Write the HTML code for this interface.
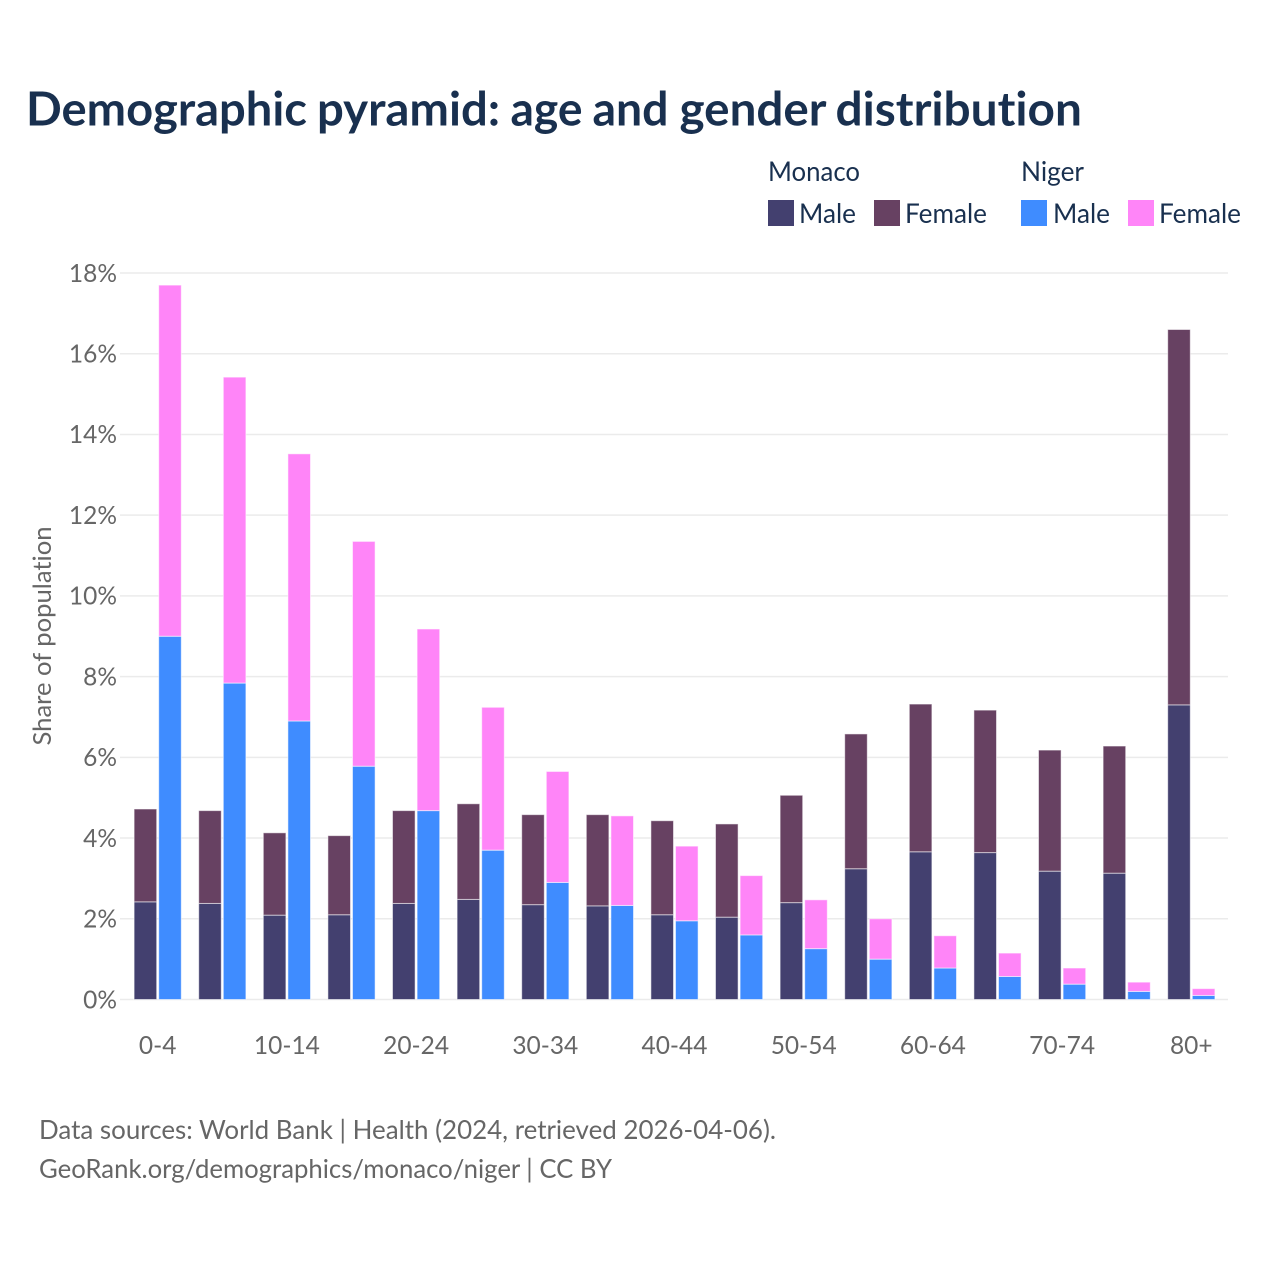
<!DOCTYPE html>
<html lang="en">
<head>
<meta charset="utf-8">
<title>Demographic pyramid</title>
<style>
html,body{margin:0;padding:0;background:#fff;}
svg{display:block;}
text{font-family:"Lato","Carlito","Liberation Sans",sans-serif;font-variant-ligatures:none;}
.tick{font-size:25px;fill:#666;}
.leg{font-size:27px;fill:#19304f;}
.foot{font-size:26px;fill:#666;}
</style>
</head>
<body>
<svg id="chart" width="1280" height="1280" viewBox="0 0 1280 1280" xmlns="http://www.w3.org/2000/svg">
  <rect width="1280" height="1280" fill="#fff"/>
  <text y="125.5" font-size="47" font-weight="700" fill="#19304f"><tspan x="26" textLength="281" lengthAdjust="spacingAndGlyphs">Demographic</tspan> <tspan x="317" textLength="183" lengthAdjust="spacingAndGlyphs">pyramid:</tspan> <tspan x="510.5" textLength="72" lengthAdjust="spacingAndGlyphs">age</tspan> <tspan x="592.5" textLength="76" lengthAdjust="spacingAndGlyphs">and</tspan> <tspan x="679.5" textLength="146" lengthAdjust="spacingAndGlyphs">gender</tspan> <tspan x="835.5" textLength="246.5" lengthAdjust="spacingAndGlyphs">distribution</tspan></text>

  <g>
    <text class="leg" x="768" y="181" textLength="92" lengthAdjust="spacingAndGlyphs">Monaco</text>
    <text class="leg" x="1021" y="181" textLength="63" lengthAdjust="spacingAndGlyphs">Niger</text>
    <g>
      <rect x="768" y="200" width="26" height="26" fill="#43406f"/>
      <text class="leg" x="799" y="223" textLength="57" lengthAdjust="spacingAndGlyphs">Male</text>
    </g>
    <g>
      <rect x="874" y="200" width="26" height="26" fill="#674162"/>
      <text class="leg" x="905" y="223" textLength="82" lengthAdjust="spacingAndGlyphs">Female</text>
    </g>
    <g>
      <rect x="1021" y="200" width="26" height="26" fill="#3f8cff"/>
      <text class="leg" x="1053" y="223" textLength="57" lengthAdjust="spacingAndGlyphs">Male</text>
    </g>
    <g>
      <rect x="1128" y="200" width="26" height="26" fill="#ff85f8"/>
      <text class="leg" x="1159" y="223" textLength="82" lengthAdjust="spacingAndGlyphs">Female</text>
    </g>
  </g>

  <g id="grid"></g>
  <g id="y-ticks"></g>
  <g id="bars"></g>
  <g id="x-ticks"></g>

  <text x="0" y="0" font-size="25" fill="#666" text-anchor="middle" textLength="219" lengthAdjust="spacingAndGlyphs" transform="translate(51 636) rotate(-90)">Share of population</text>

  <text class="foot" x="39" y="1139" textLength="737" lengthAdjust="spacingAndGlyphs">Data sources: World Bank | Health (2024, retrieved 2026-04-06).</text>
  <text class="foot" x="39" y="1178" textLength="573" lengthAdjust="spacingAndGlyphs">GeoRank.org/demographics/monaco/niger | CC BY</text>
</svg>
<script>
const ageGroups = ["0-4","5-9","10-14","15-19","20-24","25-29","30-34","35-39","40-44","45-49","50-54","55-59","60-64","65-69","70-74","75-79","80+"];
const xTickLabels = ["0-4","10-14","20-24","30-34","40-44","50-54","60-64","70-74","80+"];
const yTickValues = [0,2,4,6,8,10,12,14,16,18];
const monacoMale = [2.42,2.38,2.09,2.10,2.38,2.48,2.35,2.32,2.10,2.04,2.40,3.24,3.66,3.64,3.18,3.13,7.30];
const monacoFemale = [2.30,2.30,2.04,1.96,2.30,2.37,2.23,2.26,2.33,2.31,2.66,3.34,3.66,3.53,3.00,3.15,9.30];
const nigerMale = [9.00,7.84,6.90,5.78,4.68,3.70,2.90,2.33,1.95,1.60,1.26,1.00,0.78,0.57,0.38,0.20,0.10];
const nigerFemale = [8.70,7.58,6.62,5.57,4.50,3.54,2.75,2.22,1.85,1.47,1.21,1.00,0.80,0.58,0.40,0.23,0.17];

const NS = "http://www.w3.org/2000/svg";
const plot = {left:120, right:1228, y0:999.5, yTop:273, yMax:18, first:157.7, step:64.6, barW:22.6, gap:2};
function yScale(v){ return plot.y0 - (v / plot.yMax) * (plot.y0 - plot.yTop); }
function xCenter(i){ return plot.first + i * plot.step; }
function make(tag, parent, props){
  const el = document.createElementNS(NS, tag);
  for (const k in props) el.setAttribute(k, props[k]);
  parent.appendChild(el);
  return el;
}
function squeeze(t){
  t.setAttribute('textLength', t.getComputedTextLength() * 0.98);
  t.setAttribute('lengthAdjust', 'spacingAndGlyphs');
}
const gridG = document.getElementById("grid");
const yG = document.getElementById("y-ticks");
const xG = document.getElementById("x-ticks");
const barsG = document.getElementById("bars");

yTickValues.forEach(function(v){
  const line = make("line", gridG, {x1:plot.left, x2:plot.right, y1:yScale(v), y2:yScale(v), stroke:"#ebebeb", "stroke-width":1.5});
  
  
  const t = make("text", yG, {x:117, y:yScale(v) + 8.8, "text-anchor":"end", "class":"tick"});
  
  
  t.textContent = v + "%";
  squeeze(t);
});

function drawBar(parent, i, offset, low, value, fill, name){
  const top = yScale(low + value), bottom = yScale(low);
  const r = make("rect", parent, {
    x: xCenter(i) + offset, y: top, width: plot.barW, height: bottom - top,
    fill: fill, stroke: "#fff", "stroke-opacity": 0.55, "stroke-width": 1
  });
  
  
}

ageGroups.forEach(function(age, i){
  const g = make("g", barsG, {});
  
  
  const leftX = -plot.barW - plot.gap / 2;
  const rightX = plot.gap / 2;
  drawBar(g, i, leftX, 0, monacoMale[i], "#43406f", 'bar-monaco-male-' + age);
  drawBar(g, i, leftX, monacoMale[i], monacoFemale[i], "#674162", 'bar-monaco-female-' + age);
  drawBar(g, i, rightX, 0, nigerMale[i], "#3f8cff", 'bar-niger-male-' + age);
  drawBar(g, i, rightX, nigerMale[i], nigerFemale[i], "#ff85f8", 'bar-niger-female-' + age);
});

xTickLabels.forEach(function(label){
  const i = ageGroups.indexOf(label);
  const t = make("text", xG, {x:xCenter(i), y:1054, "text-anchor":"middle", "class":"tick"});
  
  
  t.textContent = label;
  squeeze(t);
});
</script>
</body>
</html>
